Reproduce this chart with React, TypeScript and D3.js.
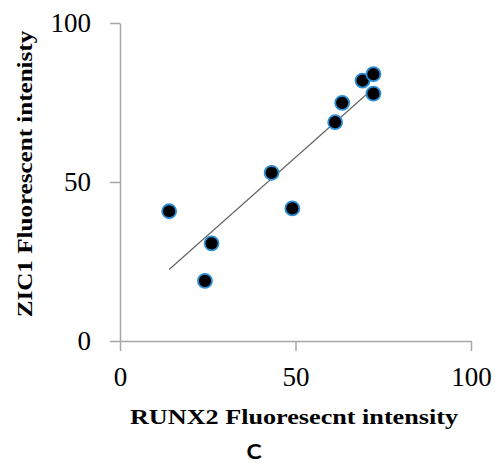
import React, { useEffect, useRef } from 'react'
import * as d3 from 'd3'

const runx2 = [14.0, 26.1, 24.2, 43.2, 49.1, 61.3, 63.3, 69.1, 72.2, 72.2]
const zic1 = [40.8, 30.7, 18.9, 52.9, 41.7, 68.8, 74.9, 81.9, 83.9, 77.8]
const xTicks = [0, 50, 100]
const yTicks = [0, 50, 100]

const width = 495
const height = 463

export default function App() {
  const svgRef = useRef<SVGSVGElement | null>(null)

  useEffect(() => {
    const svg = d3.select(svgRef.current)
    svg.selectAll('*').remove()

    const x = d3.scaleLinear().domain([0, 100]).range([120, 471])
    const y = d3.scaleLinear().domain([0, 100]).range([341, 23])

    const axisColor = '#a6a6a6'
    const serif = '"Liberation Serif", "Times New Roman", serif'

    // y axis
    const yAxis = svg.append('g').attr('transform', 'translate(120,0)')
      .call(d3.axisLeft(y).tickValues(yTicks).tickSize(10).tickSizeOuter(0).tickFormat(d3.format('d')))
    yAxis.select('.domain').attr('stroke', axisColor).attr('stroke-width', 1.5)
    yAxis.selectAll('.tick line').attr('stroke', axisColor).attr('stroke-width', 1.5)
    yAxis.selectAll('.tick text')
      .attr('x', -29)
      .attr('dy', '0.33em')
      .attr('fill', '#000')
      .style('font-family', serif)
      .style('font-size', '27px')

    // x axis
    const xAxis = svg.append('g').attr('transform', 'translate(0,341)')
      .call(d3.axisBottom(x).tickValues(xTicks).tickSize(10).tickSizeOuter(0).tickFormat(d3.format('d')))
    xAxis.select('.domain').attr('stroke', axisColor).attr('stroke-width', 1.5)
    xAxis.selectAll('.tick line').attr('stroke', axisColor).attr('stroke-width', 1.5)
    xAxis.selectAll('.tick text')
      .attr('y', 45)
      .attr('dy', 0)
      .attr('fill', '#000')
      .style('font-family', serif)
      .style('font-size', '27px')

    // linear trend line
    const mx = d3.mean(runx2) as number
    const my = d3.mean(zic1) as number
    let sxy = 0
    let sxx = 0
    runx2.forEach((v, i) => {
      sxy += (v - mx) * (zic1[i] - my)
      sxx += (v - mx) * (v - mx)
    })
    const slope = sxy / sxx
    const intercept = my - slope * mx
    const ext = d3.extent(runx2) as [number, number]
    svg.append('path')
      .datum(ext.map(v => [v, intercept + slope * v]))
      .attr('fill', 'none')
      .attr('stroke', '#666')
      .attr('stroke-width', 1.2)
      .attr('d', d3.line<number[]>().x(d => x(d[0])).y(d => y(d[1])))

    // points
    svg.append('g')
      .selectAll('circle')
      .data(runx2.map((v, i) => [v, zic1[i]]))
      .join('circle')
      .attr('cx', d => x(d[0]))
      .attr('cy', d => y(d[1]))
      .attr('r', 7)
      .attr('fill', '#000')
      .attr('stroke', '#2a8fd6')
      .attr('stroke-width', 1.8)

    // titles (the reference text is a bit wide, so stretch it horizontally)
    svg.append('text')
      .attr('transform', 'translate(294,424) scale(1.19,1)')
      .attr('text-anchor', 'middle')
      .style('font-family', serif)
      .style('font-weight', 'bold')
      .style('font-size', '22px')
      .text('RUNX2 Fluoresecnt intensity')

    svg.append('text')
      .attr('transform', 'translate(32,174) rotate(-90) scale(1.14,1)')
      .attr('text-anchor', 'middle')
      .style('font-family', serif)
      .style('font-weight', 'bold')
      .style('font-size', '22px')
      .text('ZIC1 Fluorescent intenisty')

    svg.append('text')
      .attr('transform', 'translate(254,459) scale(1.15,1)')
      .attr('text-anchor', 'middle')
      .style('font-family', 'Lato, "Open Sans", sans-serif')
      .style('font-weight', 'bold')
      .style('font-size', '20px')
      .text('C')
  }, [])

  return (
    <svg ref={svgRef} width={width} height={height}
      style={{ position: 'absolute', left: 0, top: 0, background: '#fff' }} />
  )
}
